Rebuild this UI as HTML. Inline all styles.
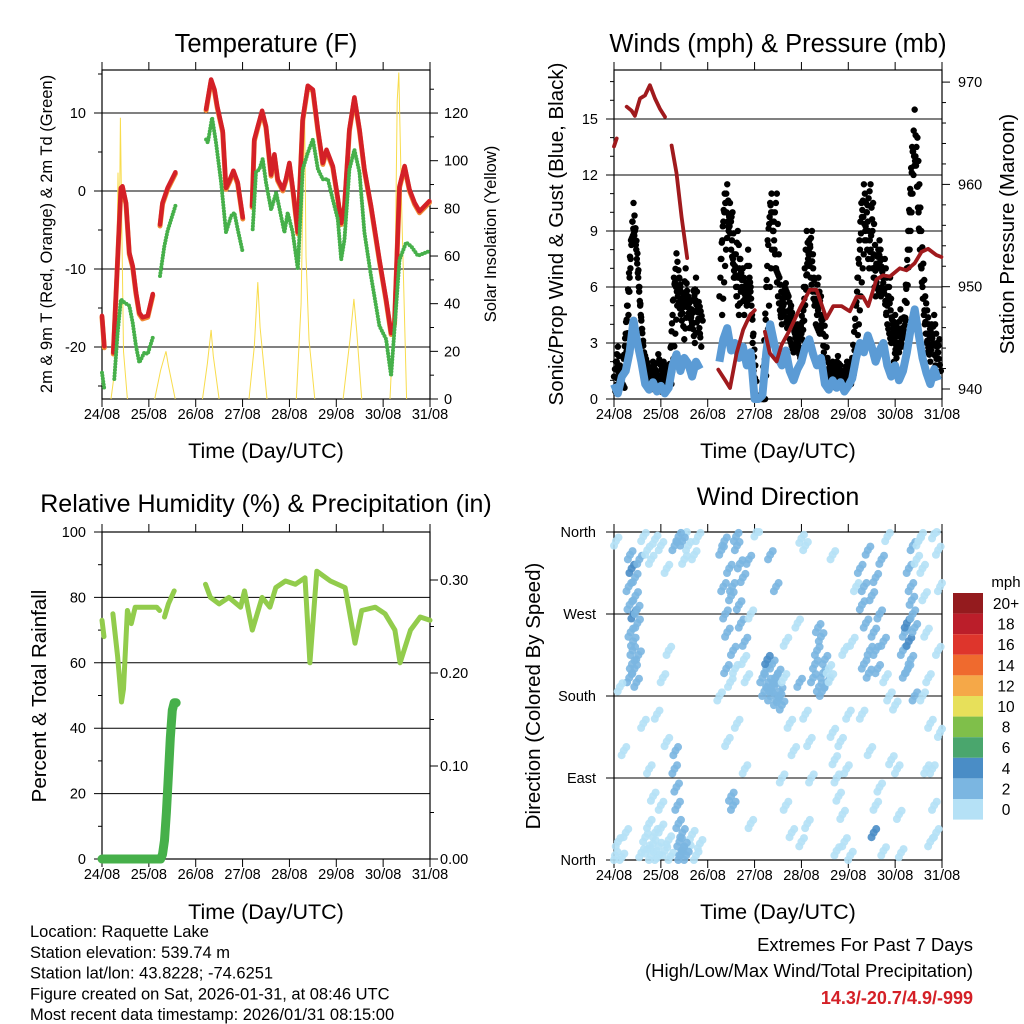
<!DOCTYPE html>
<html><head><meta charset="utf-8"><style>
html,body{margin:0;padding:0;background:#fff;}
svg{display:block;font-family:"Liberation Sans",sans-serif;}
</style></head><body>
<svg id="chart" width="1024" height="1024" viewBox="0 0 1024 1024" xmlns="http://www.w3.org/2000/svg">
<rect width="1024" height="1024" fill="#fff"/>
<g id="layer"></g>
</svg>
<script>
// ---------------- DATA ----------------
const dayLabels = ["24/08","25/08","26/08","27/08","28/08","29/08","30/08","31/08"];
const tempHours = [0,1.2,null,5.8,9.7,10.5,12.3,14,15.7,17.4,19.1,20.8,23.4,26,null,29.7,31,33.6,37.6,null,53.3,55.9,57.6,59,61.8,63.5,65.2,67.3,69.5,72.1,null,76.9,78,79.8,82,84,86.6,88.3,90,92.6,94.2,96,98,100.3,102.8,105.4,108,110.6,113.1,115,118.2,120.8,122.5,124.2,126.7,129.3,131.9,134.4,137.8,142.1,145.5,148.1,149.8,152.4,155,157.5,160.1,162.6,167.7];
const tempRed   = [-16,-19.9,null,-20.7,0.4,0.6,-1.5,-7.9,-9.6,-13,-15.6,-16.2,-16,-13.2,null,-4.3,-1.5,0.4,2.4,null,10.5,14.3,13,10.9,7.7,0.4,1.3,2.6,1.1,-3.4,null,-1.9,6.6,8.3,10.3,8.3,2.1,4.7,1.5,0.2,1.5,3.6,-0.2,-5.3,9.2,13.5,13,7.9,3.6,5.3,3.2,-0.9,-4.1,-1.9,7.9,12,7.9,2.8,-1.9,-8.8,-13.9,-18.2,-16.9,0.6,3.2,0.2,-1.5,-2.6,-1.3];
const dewHours  = [0,1.2,null,6.3,8,9.7,11.4,14,15.7,17.4,19.1,21.7,23.4,26,null,29.7,31.9,33.6,37.6,null,53.3,54.2,56.4,58.4,61,63.5,66.1,67.8,69.5,72.1,null,77.2,78.9,80.6,82.3,84,86.6,89.2,91.7,93.4,95.1,97.7,100.3,102.8,105.4,108,110.6,113.1,115.7,118.2,120.8,122.5,124.2,126.7,129.3,131.9,134.4,137.8,142.1,145.5,148.1,149.8,152.4,155.8,158.4,161.8,167.7];
const dewVals   = [-23.3,-25.4,null,-24.1,-18.2,-13.9,-14.3,-14.7,-16.9,-19.9,-22,-20.7,-20.9,-18.8,null,-10.9,-7.1,-5.1,-1.9,null,6.6,6.2,9.4,6.2,1.1,-5.3,-3.2,-2.8,-4.9,-7.9,null,-4.9,2.4,2.8,4.1,1.1,-2.4,-0.2,-3.2,-5.3,-2.8,-5.3,-10,2.8,4.9,6.6,2.8,1.5,1.5,-1.1,-3.6,-8.8,-6.2,2.8,5.3,2.4,-5.3,-10.9,-17.3,-19,-23.7,-17.7,-8.8,-6.6,-7.1,-8.3,-7.7];
const solarHours = [4.6,7,8.2,8.8,9.4,10.2,11,13,null,27,30,32.8,34,37.5,null,51.5,54,55.9,57,60,null,75.3,78,79.8,81,84.5,null,99.5,102,103.7,104.5,106,109,null,123.5,127,129,130.5,133,null,147.5,150,151.2,152,153.5,156];
const solarVals  = [0,15,95,60,118,70,20,0,null,0,12,20,14,0,null,0,15,29,18,0,null,0,22,49,30,0,null,0,40,124,60,25,0,null,0,25,42,28,0,null,0,45,125,137,80,0];

const windVals = [0.8,0.3,1.2, 1.5,2.5,4.2,3.0,2.0, 0.8,0.5,0.9,0.4,0.7,0.3,0.6, 1.8,2.4,1.5,2.2,1.9,1.2,2.0,1.6, null,null,null,null, 2.0,3.2,3.8,2.6,3.0,2.2,2.8,1.8,2.5, 0,0,0.2, 2.5,4.0,3.0,2.2,1.8,2.6,1.5,1.0,1.6, 2.0,2.8,3.2,2.4,1.8,2.2, 0.8,0.5,1.0,0.6,0.9,0.4,0.7,1.1, 2.2,3.0,2.5,3.4,2.8,2.0,2.6,3.0,1.8, 1.2,1.8,1.0,1.5, 2.5,3.8,4.8,3.5,2.2, 1.4,0.8,1.6,1.0];
const gustA = [1.2,2.8,0.8, 3.5,6.5,10.5,7.8,4.2, 1.5,0.8,2.0,1.2,0.4,1.8,1.0, 4.5,7.8,6.0,3.2,5.5,4.0,6.5,3.5, null,null,null,null, 5.5,9.5,11.5,8.0,6.5,4.5,7.0,5.0,6.0, 0,0,0.3, 6.0,10.5,8.5,5.5,4.0,6.2,3.2,2.5,4.0, 3.5,6.0,8.5,7.0,4.5,5.5, 1.5,0.8,2.0,1.2,1.8,0.6,1.4,2.2, 5.0,8.0,11.5,9.5,7.5,5.5,8.5,6.5,4.0, 3.0,4.5,2.5,3.5, 7.0,11.0,15.5,10.0,6.0, 3.5,2.0,4.5,2.5];
const gustB = [0.4,1.8,1.5, 5.0,8.5,9.0,6.0,3.0, 0.9,1.6,0.5,2.4,1.3,0.7,1.6, 6.5,5.5,4.2,7.0,3.8,5.8,4.8,2.8, null,null,null,null, 7.5,11.0,9.0,10.0,5.5,7.5,4.5,8.0,4.5, 0,0.2,0, 8.5,11.0,7.0,6.5,5.0,3.8,5.0,3.5,2.8, 5.0,9.0,6.5,5.0,6.5,3.5, 0.9,1.8,1.1,2.3,0.7,1.6,1.0,1.3, 6.5,10.5,9.0,7.0,10.5,6.0,5.5,7.5,5.5, 4.0,2.2,4.8,2.8, 9.0,13.5,12.5,8.0,4.5, 2.5,4.0,1.8,3.2];
const gustC = [2.0,1.0,0.6, 4.5,9.5,8.0,5.0,2.5, 1.8,1.2,1.0,0.6,2.0,1.4,0.8, 3.5,6.5,5.0,5.8,4.5,3.0,5.2,4.2, null,null,null,null, 4.5,8.0,10.5,6.5,9.0,6.0,5.5,6.5,3.5, 0.1,0,0, 5.0,9.0,11.0,4.5,6.0,5.5,4.2,3.0,2.2, 4.2,7.5,9.0,4.0,3.5,4.5, 2.2,1.2,0.6,1.6,1.0,2.0,0.8,1.7, 4.0,7.0,10.0,11.5,6.5,8.0,6.8,4.5,6.5, 2.0,3.8,3.2,4.2, 8.0,12.0,14.0,9.0,5.5, 4.0,3.0,2.8,1.5];
const presHours = [0,1.4,null,6.5,9,10.7,13.3,15.9,18.4,21,23.5,26.1,null,29.5,32,34.6,37.5,null,53.4,56.8,59.4,62.8,66.2,69.6,72.1,null,77.3,79.8,83.3,85.8,90.1,95.2,100.3,103.7,108.8,112.3,116.6,120.8,124.2,127.6,130.2,134.4,137.8,141.3,146.4,149.8,154,157.5,160.9,165.1,167.7];
const presVals  = [963.7,964.5,null,967.6,967.2,966.7,968.4,968.7,969.7,968.4,967.4,966.6,null,963.8,961.1,956.8,952.8,null,941.9,940.9,940.1,943.5,945.8,947.2,947.7,null,945.6,943.5,942.7,944.3,945.8,947.9,949.7,949.7,946.9,948.1,948.1,947.6,949,949,948.1,950.7,951.1,951,951.8,951.6,952.3,953.4,953.7,953.1,952.9];

const rhHours = [0,1,null,5.6,8,10,11,13,15,17,20,24.6,28,29.5,null,32,34,37,null,53,55.5,60,65,71,73,77,82,86,89,94,99,104,106.5,110,117,124.5,129.6,133,140,145,150,152.7,158,163,168];
const rhVals  = [73,68,null,75,62,48,52,76,72,77,77,77,77,76,null,74,78,82,null,84,80,78,80,77,82,70,80,77,83,85,84,86,60,88,85,83,66,76,77,75,70,60,70,74,73];
const precipHours = [0,4,8,12,16,20,24,28,30,31,32,33,34,35,36,37,38];
const precipVals  = [0,0,0,0,0,0,0,0,0,0.005,0.02,0.05,0.09,0.13,0.16,0.168,0.168];

const dirObs = [
[7.5,300,3],[8,280,3.5],[8.5,250,2.5],[9,320,4.5],[9.5,230,3],[10,270,4],[10.5,210,2.5],[11,290,3],[11.5,195,2],[12,260,3.5],[8.2,335,2.5],[9.8,240,3],[12.5,225,2.5],[7.8,200,2],[10.8,310,3.5],[11.8,275,2.5],[9.2,215,2.5],[13,330,2],
[0.5,5,0.5],[2,20,1],[4,3,0.5],[6,30,1],[14,8,0.5],[16,25,1],[17,12,1],[18,40,0.5],[19,5,1],[20,18,0.5],[21,30,1],[22,2,1],[23,15,1.5],[24,35,0.5],[26,10,1],[28,22,1],[29,4,0.5],[38,12,1],[40,28,1],[42,5,0.5],[44,18,1],
[1,350,0.5],[15,355,1],[17,340,1],[19,330,1],[21,352,0.5],[24,345,1],[27,320,1],[36,358,1],[38,345,1],[41,335,1],[43,355,1.5],
[3,190,1],[5,120,0.5],[15,150,1],[18,100,0.5],[22,160,1],[25,200,1],[27,130,0.5],[20,70,1],[24,60,1],[28,230,1],
[31,100,2.5],[32,80,2.5],[32.5,60,3],[33,40,2.5],[33.5,20,3],[34,5,2.5],[35,30,2],[31.5,120,2],[34.5,10,3],[36,15,2],[33,355,2.5],[35,350,2],[31,345,2],[37,5,2.5],[36,330,1],
[55,340,2.5],[56,300,2.5],[57,270,3],[58,250,2.5],[59,320,2.5],[60,290,3.5],[61,230,2],[62,210,1.5],[63,345,2.5],[64,280,2.5],[65,260,2.5],[66,310,2],[67,240,2],[68,200,1],[69,330,2.5],[70,270,1],[57.5,210,2],[62.5,355,2.5],[66.5,220,1.5],[59.5,195,1.5],[64.5,325,2.5],[56.5,350,2.5],[60.5,300,2.5],[54,180,1],[58,130,1],[63,150,1],[67,100,0.5],[60,70,2.5],[61,60,2.5],[70,40,0.5],
[76,200,2.5],[77,185,2.5],[78,210,3],[79,195,2.5],[80,180,2.5],[81,215,2.5],[82,190,2.5],[83,175,3],[84,205,2.5],[85,185,2],[86,170,2],[87,200,1.5],[78.5,220,4],[80.5,190,2.5],[82.5,200,2.5],[84.5,178,2.5],[88,240,1],[90,150,1],[92,120,1],[86,90,1],[88,60,1],[91,30,1],[83,300,3],[80,335,3],[73,360,1],
[102,200,2.5],[103,215,2.5],[104,230,2.5],[105,190,2.5],[106,245,3],[107,205,2.5],[108,220,2.5],[109,195,2.5],[104.5,255,3],[106.5,185,2],[110,210,1.5],[98,160,1],[100,130,1],[101,90,1],[99,40,1],[96,20,1],[94,260,1],[95,195,3],[96,353,1],[98,345,1],
[112,140,1],[113,110,1],[114,90,1],[115,70,1],[116,130,1],[117,50,1],[118,20,1],[119,100,1],[120,160,1],[121,5,1],[111,200,1],[118,230,1],[122,240,1],[124,300,1],[112,335,1],[114,10,1],
[126,320,2.5],[127,280,2.5],[128,300,2],[129,260,2.5],[130,340,2.5],[131,230,2],[132,290,3],[133,250,2.5],[134,310,2.5],[135,210,2],[136,270,2],[137,330,2],[138,240,2],[139,200,1],[140,355,1],[128,215,2],[130.5,205,2.5],[134,230,2.5],[127,160,1],[131,120,1],[134,60,1],[133,30,4],[136,80,1],[138,10,1],[142,110,1],[141,180,1],
[148,230,2.5],[149,250,3],[150,260,4],[151,240,4],[152,220,3],[153,270,3.5],[154,255,3.5],[150.5,210,2.5],[152.5,285,2],[151,320,2],[153,345,2.5],[152,300,3.5],[149,205,2],[154,180,3],[156,350,1],[155,330,1.5],
[157,355,1],[158,320,1],[159,290,1],[160,250,1],[161,200,1],[162,150,1],[163,100,1],[164,60,1],[165,30,1],[166,340,1],[167,300,1],[158,180,1],[160,100,1],[162,20,1],[164,358,1],[166,230,1],[167,140,1],[145,100,1],[146,50,1],[144,170,1],[147,8,1]
];
const speedLabels = ["20+","18","16","14","12","10","8","6","4","2","0"];
const speedColors = ["#941b1e","#bb1e2a","#de352c","#ef6a2e","#f5a848","#e7e05a","#7fbf4a","#4aa66d","#4a8dc6","#7bb6e1","#b5e1f6"];

// ---------------- DRAWING ----------------
const NS="http://www.w3.org/2000/svg";
const layer=document.getElementById('layer');
function mk(tag,attrs,parent){const e=document.createElementNS(NS,tag);for(const k in attrs)e.setAttribute(k,attrs[k]);(parent||layer).appendChild(e);return e;}
function txt(s,x,y,size,anchor,parent,extra){const e=mk('text',Object.assign({x:x,y:y,'font-size':size,'text-anchor':anchor||'middle',fill:'#000'},extra||{}),parent);e.textContent=s;return e;}
function pathFrom(xs,ys,fx,fy){let d='',pen=false;for(let i=0;i<xs.length;i++){if(xs[i]===null||ys[i]===null){pen=false;continue;}d+=(pen?'L':'M')+fx(xs[i]).toFixed(1)+','+fy(ys[i]).toFixed(1);pen=true;}return d;}

const HOURS=168;
function frame(name,x0,x1,y0,y1){
  const g=mk('g',{});
  
  
  mk('rect',{x:x0,y:y0,width:x1-x0,height:y1-y0,fill:'none',stroke:'#000','stroke-width':1.2},g);
  for(let d=0;d<=7;d++){const x=x0+d*(x1-x0)/7;
    mk('line',{x1:x,x2:x,y1:y0,y2:y0-8,stroke:'#000','stroke-width':1},g);
    mk('line',{x1:x,x2:x,y1:y1,y2:y1+8,stroke:'#000','stroke-width':1},g);
    const t=txt(dayLabels[d],x,y1+20,14.5,'middle',g);
    
    
  }
  return g;
}
function hgrid(g,x0,x1,y,label,lx,anchor){
  mk('line',{x1:x0-8,x2:x1,y1:y,y2:y,stroke:'#000','stroke-width':1},g);
  if(label!==null){const t=txt(label,lx,y+5,14.5,anchor,g);}
}
function rtick(g,x1,y,len,label,lx){
  mk('line',{x1:x1,x2:x1+len,y1:y,y2:y,stroke:'#000','stroke-width':1},g);
  if(label!==null){const t=txt(label,lx,y+5,14.5,'start',g);}
}
function rotText(s,x,y,size,name){const t=txt(s,0,0,size,'middle');t.setAttribute('transform','translate('+x+','+y+') rotate(-90)');}
function title(s,x,y,size,name){const t=txt(s,x,y,size,'middle');}
function lerpAt(arr,step,t){const i=Math.floor(t/step);const f=t/step-i;const a=arr[i],b=arr[i+1];if(a===null||a===undefined)return null;if(b===null||b===undefined)return f<0.01?a:null;return a+(b-a)*f;}

// ===== Temperature panel =====
{
const X0=102,X1=430,Y0=70,Y1=399;
const xT=h=>X0+h*(X1-X0)/HOURS, yT=v=>191-v*7.8, yS=v=>399-v*2.383;
const g=frame('temperature',X0,X1,Y0,Y1);
[10,0,-10,-20].forEach(v=>hgrid(g,X0,X1,yT(v),String(v),86,'end'));
for(let v=-25;v<=15;v+=5){if(v%10)mk('line',{x1:X0-4,x2:X0,y1:yT(v),y2:yT(v),stroke:'#000'},g);}
for(let v=0;v<=120;v+=20)rtick(g,X1,yS(v),8,String(v),444);
for(let v=10;v<=130;v+=20)rtick(g,X1,yS(v),4,null,0);
const s=mk('path',{d:pathFrom(solarHours,solarVals,xT,yS),fill:'none',stroke:'#f8dc4c','stroke-width':1});


const o=mk('path',{d:pathFrom(tempHours,tempRed,xT,yT),fill:'none',stroke:'#f08a35','stroke-width':5,'stroke-linejoin':'round','stroke-linecap':'round',transform:'translate(0,1.5)'});


const r=mk('path',{d:pathFrom(tempHours,tempRed,xT,yT),fill:'none',stroke:'#d42027','stroke-width':4.5,'stroke-linejoin':'round','stroke-linecap':'round'});


const d=mk('path',{d:pathFrom(dewHours,dewVals,xT,yT),fill:'none',stroke:'#46b04a','stroke-width':4,'stroke-dasharray':'0 3','stroke-linecap':'round'});


title('Temperature (F)',266,52,25.5,'temperature-title');
title('Time (Day/UTC)',266,458,21.5,'temperature-x-title');
rotText('2m & 9m T (Red, Orange) & 2m Td (Green)',52,234,16.5,'temperature-y-title');
rotText('Solar Insolation (Yellow)',496,234,16.5,'solar-y-title');
}

// ===== Winds panel =====
{
const X0=614,X1=942,Y0=70,Y1=399;
const xW=h=>X0+h*(X1-X0)/HOURS, yW=v=>399-v*18.67, yP=p=>389-(p-940)*10.23;
const g=frame('winds',X0,X1,Y0,Y1);
[0,3,6,9,12,15].forEach(v=>hgrid(g,X0,X1,yW(v),String(v),598,'end'));
for(let v=1;v<=17;v++){if(v%3)mk('line',{x1:X0-4,x2:X0,y1:yW(v),y2:yW(v),stroke:'#000'},g);}
[940,950,960,970].forEach(p=>rtick(g,X1,yP(p),8,String(p),958));
for(let p=942;p<=970;p+=2){if(p%10)rtick(g,X1,yP(p),4,null,0);}
const wh=windVals.map((v,i)=>i*2);
const gd=mk('g',{});


[[gustA,0],[gustB,0.7],[gustC,1.4]].forEach(([arr,off])=>{
  for(let t=0;t<=166;t+=0.5){const v=lerpAt(arr,2,t);if(v===null)continue;const h=t+off;if(h>168)continue;
    const c=mk('circle',{cx:xW(h),cy:yW(v),r:3.2,fill:'#000'},gd);
    
    }
});
const w=mk('path',{d:pathFrom(wh,windVals,xW,yW),fill:'none',stroke:'#5b9bd5','stroke-width':8,'stroke-linejoin':'round'});


const p=mk('path',{d:pathFrom(presHours,presVals,xW,yP),fill:'none',stroke:'#a01a1d','stroke-width':3.8,'stroke-linejoin':'round','stroke-linecap':'round'});


title('Winds (mph) & Pressure (mb)',778,52,25.5,'winds-title');
title('Time (Day/UTC)',778,458,21.5,'winds-x-title');
rotText('Sonic/Prop Wind & Gust (Blue, Black)',563,234,20.5,'winds-y-title');
rotText('Station Pressure (Maroon)',1014,234,20.5,'pressure-y-title');
}

// ===== RH panel =====
{
const X0=102,X1=430,Y0=532,Y1=859;
const xR=h=>X0+h*(X1-X0)/HOURS, yR=v=>859-v*3.27, yPr=v=>859-v*930;
const g=frame('humidity',X0,X1,Y0,Y1);
[0,20,40,60,80,100].forEach(v=>hgrid(g,X0,X1,yR(v),String(v),86,'end'));
for(let v=10;v<=90;v+=20)mk('line',{x1:X0-4,x2:X0,y1:yR(v),y2:yR(v),stroke:'#000'},g);
[0,0.1,0.2,0.3].forEach(v=>rtick(g,X1,yPr(v),8,v.toFixed(2),440));
for(let v=0.05;v<0.35;v+=0.1)rtick(g,X1,yPr(v),4,null,0);
const pr=mk('path',{d:pathFrom(precipHours,precipVals,xR,yPr),fill:'none',stroke:'#46b04a','stroke-width':9,'stroke-linejoin':'round','stroke-linecap':'round'});


const rh=mk('path',{d:pathFrom(rhHours,rhVals,xR,yR),fill:'none',stroke:'#92cc4c','stroke-width':5,'stroke-linejoin':'round','stroke-linecap':'round'});


title('Relative Humidity (%) & Precipitation (in)',266,512,25,'humidity-title');
title('Time (Day/UTC)',266,919,21.5,'humidity-x-title');
rotText('Percent & Total Rainfall',46,696,20.5,'humidity-y-title');
}

// ===== Wind direction panel =====
{
const X0=614,X1=942,Y0=532,Y1=860;
const xD=h=>X0+h*(X1-X0)/HOURS, yD=d=>860-d*82/90;
const g=frame('wind-direction',X0,X1,Y0,Y1);
[["North",0],["East",90],["South",180],["West",270],["North",360]].forEach(([l,d])=>hgrid(g,X0,X1,yD(d),l,596,'end'));
function colorFor(s){const idx=Math.min(10,Math.floor(s/2));return speedColors[10-idx];}
const gd=mk('g',{});


const spread=[[0,0],[1.3,4],[-1.1,-5]];
dirObs.forEach(([h,d,s])=>{spread.forEach(([dh,dd])=>{
  const hh=Math.max(0,Math.min(168,h+dh)), de=Math.max(0,Math.min(360,d+dd));
  const c=mk('circle',{cx:xD(hh),cy:yD(de),r:4,fill:colorFor(s),'fill-opacity':0.9},gd);
  
  });});
title('Wind Direction',778,505,25,'wind-direction-title');
title('Time (Day/UTC)',778,919,21.5,'wind-direction-x-title');
rotText('Direction (Colored By Speed)',540,696,20.5,'wind-direction-y-title');
const lg=mk('g',{});


txt('mph',1006,587,15,'middle',lg);
speedLabels.forEach((l,i)=>{const y=593+i*20.6;
  const r=mk('rect',{x:953,y:y,width:30,height:20.6,fill:speedColors[i]},lg);
  
  
  const t=txt(l,1006,y+16,15.5,'middle',lg);
  
  });
}

// ===== Footer =====
{
const g=mk('g',{});


["Location: Raquette Lake","Station elevation: 539.74 m","Station lat/lon: 43.8228; -74.6251","Figure created on Sat, 2026-01-31, at 08:46 UTC","Most recent data timestamp: 2026/01/31 08:15:00"].forEach((s,i)=>txt(s,30,937+i*20.8,16.5,'start',g));
const e=mk('g',{});


txt('Extremes For Past 7 Days',973,951,18.5,'end',e);
txt('(High/Low/Max Wind/Total Precipitation)',973,977,18.5,'end',e);
txt('14.3/-20.7/4.9/-999',973,1004,18,'end',e,{fill:'#d42027','font-weight':'bold'});
}
</script>
</body></html>
